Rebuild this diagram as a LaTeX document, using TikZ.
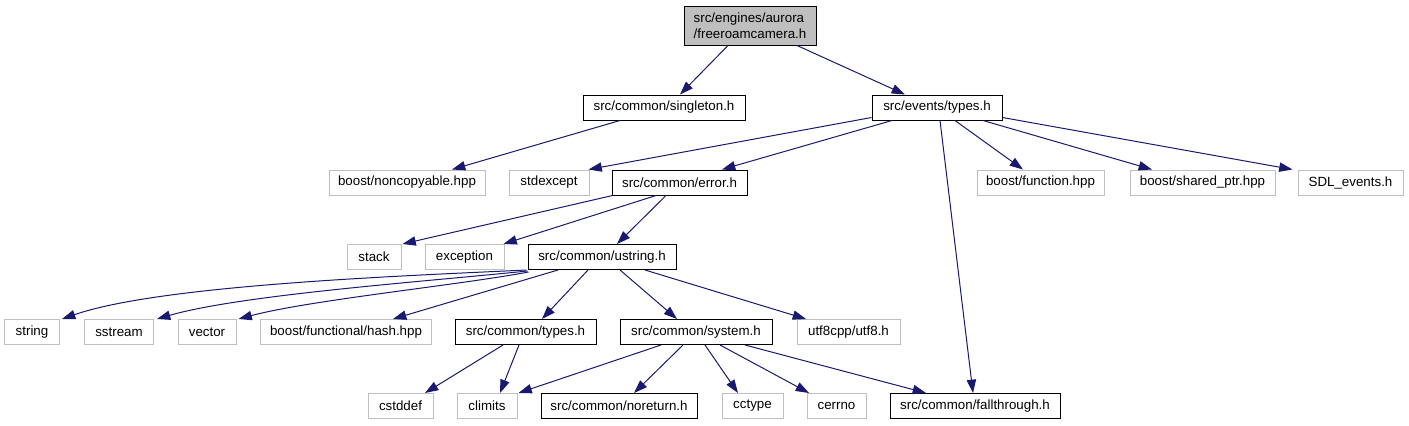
\documentclass[tikz,border=0pt]{standalone}
\usepackage{fontspec}
\setmainfont{Liberation Sans}
\usetikzlibrary{arrows.meta,calc}
\definecolor{edgeblue}{HTML}{191970}
\definecolor{extgray}{HTML}{BFBFBF}
\begin{document}
\begin{tikzpicture}[x=0.75pt,y=-0.75pt,
  gbox/.style={draw, line width=0.75pt, inner sep=0pt, minimum height=18.75pt,
     font=\fontsize{10}{12}\selectfont, text=black},
  docbox/.style={gbox, draw=black},
  extbox/.style={gbox, draw=extgray},
  wpx/.style={minimum width=#1*0.75pt},
  edge/.style={draw=edgeblue, line width=0.75pt,
     -{Triangle[length=10pt,width=7pt,fill=edgeblue]}}]
\useasboundingbox (0,0) rectangle (1409,425);
% nodes
\node[docbox, fill=extgray, wpx=132, minimum height=29.25pt, align=left] (root) at (750,25.5) {src/engines/aurora\\/freeroamcamera.h};
\node[docbox, wpx=162] (singleton) at (664,107.5) {src/common/singleton.h};
\node[docbox, wpx=130] (events) at (937,107.5) {src/events/types.h};
\node[extbox, wpx=156] (noncopyable) at (407,182.5) {boost/noncopyable.hpp};
\node[extbox, wpx=80] (stdexcept) at (549,182.5) {stdexcept};
\node[docbox, wpx=135] (error) at (679.5,182.5) {src/common/error.h};
\node[extbox, wpx=127] (function) at (1040.5,182.5) {boost/function.hpp};
\node[extbox, wpx=145] (sharedptr) at (1202.5,182.5) {boost/shared\_ptr.hpp};
\node[extbox, wpx=105] (sdl) at (1350.5,182.5) {SDL\_events.h};
\node[extbox, wpx=54] (stack) at (374,257) {stack};
\node[extbox, wpx=79] (exception) at (464.5,257) {exception};
\node[docbox, wpx=148] (ustring) at (602,257) {src/common/ustring.h};
\node[extbox, wpx=55] (string) at (32,332) {string};
\node[extbox, wpx=69] (sstream) at (119,332) {sstream};
\node[extbox, wpx=58] (vector) at (207,332) {vector};
\node[extbox, wpx=171] (hash) at (346,332) {boost/functional/hash.hpp};
\node[docbox, wpx=141] (types) at (525.5,332) {src/common/types.h};
\node[docbox, wpx=152] (system) at (696,332) {src/common/system.h};
\node[extbox, wpx=103] (utf8) at (848.5,332) {utf8cpp/utf8.h};
\node[extbox, wpx=65] (cstddef) at (400.5,406) {cstddef};
\node[extbox, wpx=60] (climits) at (487,406) {climits};
\node[docbox, wpx=156] (noreturn) at (619,406) {src/common/noreturn.h};
\node[extbox, wpx=61] (cctype) at (752.5,406) {cctype};
\node[extbox, wpx=59] (cerrno) at (836.5,406) {cerrno};
\node[docbox, wpx=170] (fallthrough) at (975,406) {src/common/fallthrough.h};
% edges
\draw[edge] ($(root.south)+(-22,0)$) -- ($(singleton.north)+(16,0)$);
\draw[edge] ($(root.south)+(47,0)$) -- ($(events.north)+(-32,0)$);
\draw[edge] ($(singleton.south)+(-44,0)$) -- ($(noncopyable.north)+(45,0)$);
\draw[edge] ($(events.south west)+(0,-3)$) -- ($(stdexcept.north east)+(-1,0)$);
\draw[edge] ($(events.south)+(-45,0)$) -- ($(error.north)+(42.5,0)$);
\draw[edge] ($(events.south)+(3,0)$) -- ($(fallthrough.north)+(-2,0)$);
\draw[edge] ($(events.south)+(18,0)$) -- ($(function.north)+(-17.5,0)$);
\draw[edge] ($(events.south)+(46,0)$) -- ($(sharedptr.north)+(-50.5,0)$);
\draw[edge] ($(events.south east)+(0,-3)$) -- ($(sdl.north west)+(-5,0)$);
\draw[edge] ($(error.south west)+(1,0)$) -- ($(stack.north east)+(1,0)$);
\draw[edge] ($(error.south)+(-23.5,0)$) -- ($(exception.north east)+(-1,0)$);
\draw[edge] ($(error.south)+(-13.5,0)$) -- ($(ustring.north)+(15,0)$);
\draw[edge] ($(ustring.south west)+(-1,0)$) .. controls (400,276) and (160,285) .. ($(string.north east)+(2,0)$);
\draw[edge] ($(ustring.south west)+(0,1)$) .. controls (420,282) and (240,295) .. ($(sstream.north east)+(3,0)$);
\draw[edge] ($(ustring.south west)+(1,2)$) .. controls (460,285) and (310,300) .. ($(vector.north east)+(2,0)$);
\draw[edge] ($(ustring.south)+(-44,0)$) -- ($(hash.north)+(47,0)$);
\draw[edge] ($(ustring.south)+(-14,0)$) -- ($(types.north)+(16.5,0)$);
\draw[edge] ($(ustring.south)+(18,0)$) -- ($(system.north)+(-19,0)$);
\draw[edge] ($(ustring.south)+(43,0)$) -- ($(utf8.north)+(-42.5,0)$);
\draw[edge] ($(types.south)+(-22.5,0)$) -- ($(cstddef.north)+(24.5,0)$);
\draw[edge] ($(types.south)+(-6.5,0)$) -- ($(climits.north)+(13,0)$);
\draw[edge] ($(system.south)+(-35,0)$) -- ($(climits.north east)+(1,0)$);
\draw[edge] ($(system.south)+(-13,0)$) -- ($(noreturn.north)+(15,0)$);
\draw[edge] ($(system.south)+(9,0)$) -- ($(cctype.north)+(-14.5,0)$);
\draw[edge] ($(system.south)+(24,0)$) -- ($(cerrno.north)+(-27.5,0)$);
\draw[edge] ($(system.south)+(49,0)$) -- ($(fallthrough.north)+(-49,0)$);
\end{tikzpicture}
\end{document}
